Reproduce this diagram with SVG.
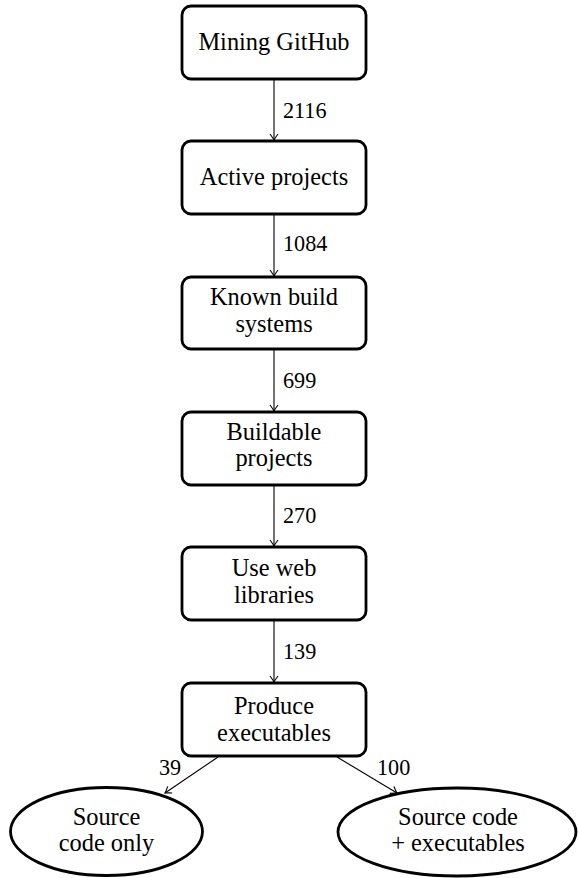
<svg xmlns="http://www.w3.org/2000/svg" width="579" height="878" viewBox="0 0 579 878">
<style>
.box{fill:#fff;stroke:#000;stroke-width:2.8}
text{font-family:'Liberation Serif','Times New Roman',serif;fill:#000}
.t{font-size:24.4px;text-anchor:middle}
.n{font-size:22.2px}
.e{fill:none;stroke:#000;stroke-width:1.1;marker-end:url(#ah)}
</style>
<defs>
<marker id="ah" viewBox="-7 -5 8 10" markerWidth="8" markerHeight="10" refX="0" refY="0" orient="auto" markerUnits="userSpaceOnUse">
<path d="M-6,-4 Q-2,-1 0,0 Q-2,1 -6,4" fill="none" stroke="#000" stroke-width="1.1"/>
</marker>
</defs>
<g id="connectors">
<line class="e" x1="274" y1="80" x2="274" y2="140"/>
<line class="e" x1="274" y1="215" x2="274" y2="276"/>
<line class="e" x1="274" y1="350" x2="274" y2="411"/>
<line class="e" x1="274" y1="486" x2="274" y2="546"/>
<line class="e" x1="274" y1="621" x2="274" y2="682"/>
<line class="e" x1="218" y1="757" x2="165" y2="793"/>
<line class="e" x1="337" y1="757" x2="397" y2="793"/>
<text class="n" x="283" y="118">2116</text>
<text class="n" x="283" y="251">1084</text>
<text class="n" x="283" y="388">699</text>
<text class="n" x="283" y="523">270</text>
<text class="n" x="283" y="659">139</text>
<text class="n" x="170" y="775" text-anchor="middle">39</text>
<text class="n" x="377" y="775">100</text>
</g>
<g id="mining">
<rect class="box" x="182" y="6" width="184" height="73" rx="9"/>
<text class="t" x="274" y="50">Mining GitHub</text>
</g>
<g id="active">
<rect class="box" x="182" y="141" width="184" height="73" rx="9"/>
<text class="t" x="274" y="185">Active projects</text>
</g>
<g id="known">
<rect class="box" x="182" y="277" width="184" height="72" rx="9"/>
<text class="t" x="274" y="305">Known build</text>
<text class="t" x="274" y="332">systems</text>
</g>
<g id="buildable">
<rect class="box" x="182" y="412" width="184" height="73" rx="9"/>
<text class="t" x="274" y="440">Buildable</text>
<text class="t" x="274" y="466">projects</text>
</g>
<g id="useweb">
<rect class="box" x="182" y="547" width="184" height="73" rx="9"/>
<text class="t" x="274" y="576">Use web</text>
<text class="t" x="274" y="603">libraries</text>
</g>
<g id="produce">
<rect class="box" x="182" y="683" width="184" height="73" rx="9"/>
<text class="t" x="274" y="714">Produce</text>
<text class="t" x="274" y="741">executables</text>
</g>
<g id="sourceonly">
<ellipse class="box" cx="106.5" cy="831.5" rx="96" ry="44"/>
<text class="t" x="106.5" y="825">Source</text>
<text class="t" x="106.5" y="851">code only</text>
</g>
<g id="sourceexec">
<ellipse class="box" cx="457" cy="832" rx="119" ry="44"/>
<text class="t" x="458" y="825">Source code</text>
<text class="t" x="458" y="851">+ executables</text>
</g>
</svg>
